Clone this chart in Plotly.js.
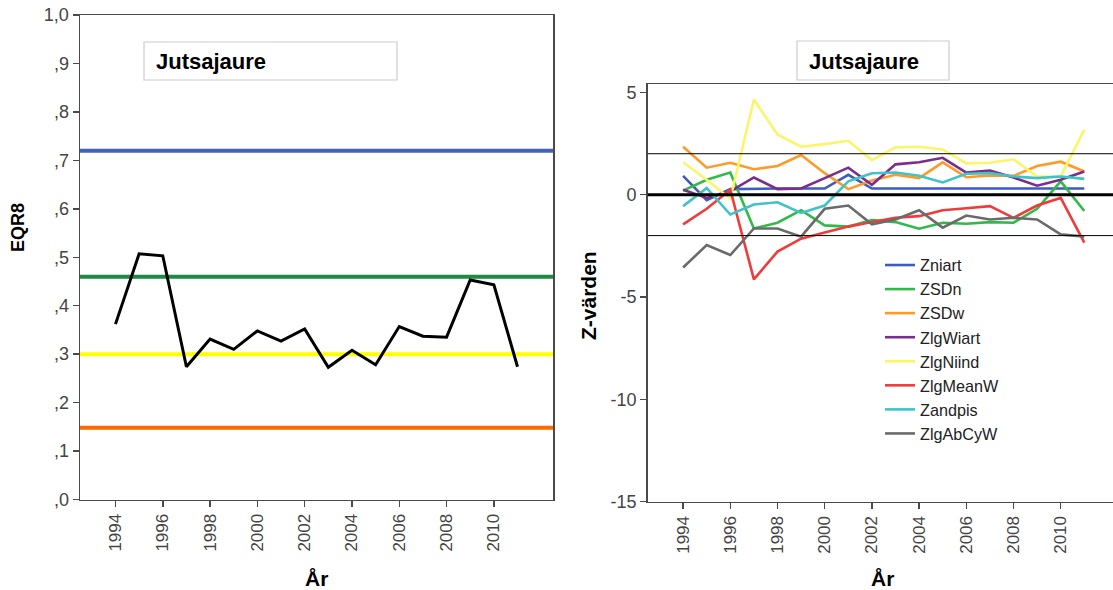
<!DOCTYPE html>
<html>
<head>
<meta charset="utf-8">
<script src="https://cdn.plot.ly/plotly-3.0.1.min.js"></script>
<style>html,body{margin:0;padding:0;background:#fff;}#chart{width:1113px;height:590px;}</style>
</head>
<body>
<div id="chart"></div>
<script>
// ---- data ----
const years = [1994,1995,1996,1997,1998,1999,2000,2001,2002,2003,2004,2005,2006,2007,2008,2009,2010,2011];
const eqr8 = [0.362,0.507,0.503,0.274,0.331,0.310,0.348,0.327,0.352,0.273,0.308,0.278,0.357,0.337,0.335,0.453,0.443,0.274];
const eqrLimits = [0.72, 0.46, 0.30, 0.148];
const eqrLimitColors = ['#4262bd', '#1d8a43', '#ffff00', '#ff6a00'];

const seriesNames = ['Zniart','ZSDn','ZSDw','ZlgWiart','ZlgNiind','ZlgMeanW','Zandpis','ZlgAbCyW'];
const Zniart   = [0.92,-0.27,0.27,0.30,0.30,0.30,0.30,0.97,0.30,0.30,0.30,0.30,0.30,0.30,0.30,0.30,0.30,0.30];
const ZSDn     = [0.20,0.73,1.08,-1.65,-1.37,-0.76,-1.50,-1.56,-1.24,-1.34,-1.66,-1.37,-1.42,-1.34,-1.37,-0.69,0.65,-0.80];
const ZSDw     = [2.34,1.32,1.56,1.24,1.40,1.94,1.05,0.27,0.69,0.97,0.81,1.58,0.85,0.94,0.92,1.40,1.61,1.13];
const ZlgWiart = [0.24,-0.16,0.16,0.84,0.27,0.30,0.81,1.32,0.48,1.48,1.58,1.80,1.08,1.18,0.84,0.44,0.73,1.13];
const ZlgNiind = [1.58,0.73,-0.20,4.65,2.94,2.34,2.47,2.63,1.69,2.31,2.34,2.21,1.53,1.56,1.73,0.89,0.89,3.18];
const ZlgMeanW = [-1.45,-0.69,0.24,-4.14,-2.78,-2.15,-1.85,-1.56,-1.34,-1.13,-1.05,-0.76,-0.66,-0.56,-1.13,-0.53,-0.16,-2.34];
const Zandpis  = [-0.56,0.32,-0.97,-0.48,-0.37,-0.89,-0.53,0.65,1.05,1.08,0.92,0.60,1.02,1.05,0.89,0.81,0.89,0.77];
const ZlgAbCyW = [-3.56,-2.46,-2.95,-1.65,-1.65,-2.05,-0.69,-0.53,-1.45,-1.21,-0.76,-1.61,-1.02,-1.21,-1.13,-1.21,-1.94,-2.05];
const seriesValues = [Zniart,ZSDn,ZSDw,ZlgWiart,ZlgNiind,ZlgMeanW,Zandpis,ZlgAbCyW];
const seriesColors = ['#3d5cbd','#31b94a','#ff9a28','#7a2d8c','#fbf56a','#ef3b3b','#40c3c6','#6b6b6b'];
const zRefLines = [2, 0, -2];
const zRefWidths = [1, 3, 1];

const xTickVals = [1994,1996,1998,2000,2002,2004,2006,2008,2010];
const eqrTickVals = [0,0.1,0.2,0.3,0.4,0.5,0.6,0.7,0.8,0.9,1.0];
const eqrTickText = [',0',',1',',2',',3',',4',',5',',6',',7',',8',',9','1,0'];
const zTickVals = [5,0,-5,-10,-15];
const zTickText = ['5','0','-5','-10','-15'];
const titleText = 'Jutsajaure';
const xTitle = 'År';
const yTitleLeft = 'EQR8';
const yTitleRight = 'Z-värden';

// ---- layout geometry (pixels -> paper) ----
const W = 1113, H = 590;
const px = v => v / W;
const py = v => 1 - v / H;

const FONT = '"Liberation Sans", Arial, sans-serif';
const axisColor = '#4a4a4a';

const traces = [];
traces.push({
  x: years, y: eqr8, type: 'scatter', mode: 'lines',
  line: {color: '#000000', width: 3}, xaxis: 'x', yaxis: 'y', showlegend: false, hoverinfo: 'skip'
});
seriesNames.forEach((n, i) => {
  traces.push({
    x: years, y: seriesValues[i], name: n, type: 'scatter', mode: 'lines',
    line: {color: seriesColors[i], width: 2.6}, xaxis: 'x2', yaxis: 'y2'
  });
});

const shapes = [];
eqrLimits.forEach((v, i) => {
  shapes.push({type: 'line', xref: 'x domain', yref: 'y', x0: 0, x1: 1, y0: v, y1: v,
    line: {color: eqrLimitColors[i], width: 4}, layer: 'below'});
});
zRefLines.forEach((v, i) => {
  shapes.push({type: 'line', xref: 'x2 domain', yref: 'y2', x0: 0, x1: 1, y0: v, y1: v,
    line: {color: '#000000', width: zRefWidths[i]}, layer: 'above'});
});
// title boxes
shapes.push({type: 'rect', xref: 'paper', yref: 'paper', x0: px(144), x1: px(397), y0: py(80), y1: py(42),
  line: {color: '#cccccc', width: 1.2}, fillcolor: '#ffffff', layer: 'above'});
shapes.push({type: 'rect', xref: 'paper', yref: 'paper', x0: px(797), x1: px(949), y0: py(80), y1: py(41),
  line: {color: '#cccccc', width: 1.2}, fillcolor: '#ffffff', layer: 'above'});

const annotations = [
  {xref: 'paper', yref: 'paper', x: px(154), y: py(61), xanchor: 'left', yanchor: 'middle', showarrow: false,
   text: '<b>' + titleText + '</b>', font: {family: FONT, size: 22, color: '#000'}},
  {xref: 'paper', yref: 'paper', x: px(807), y: py(61), xanchor: 'left', yanchor: 'middle', showarrow: false,
   text: '<b>' + titleText + '</b>', font: {family: FONT, size: 22, color: '#000'}},
  {xref: 'paper', yref: 'paper', x: px(316.5), y: py(578), xanchor: 'center', yanchor: 'middle', showarrow: false,
   text: '<b>' + xTitle + '</b>', font: {family: FONT, size: 21, color: '#000'}},
  {xref: 'paper', yref: 'paper', x: px(882), y: py(578), xanchor: 'center', yanchor: 'middle', showarrow: false,
   text: '<b>' + xTitle + '</b>', font: {family: FONT, size: 21, color: '#000'}},
  {xref: 'paper', yref: 'paper', x: px(18), y: py(228), xanchor: 'center', yanchor: 'middle', showarrow: false,
   textangle: -90, text: '<b>' + yTitleLeft + '</b>', font: {family: FONT, size: 18, color: '#000'}},
  {xref: 'paper', yref: 'paper', x: px(588), y: py(296), xanchor: 'center', yanchor: 'middle', showarrow: false,
   textangle: -90, text: '<b>' + yTitleRight + '</b>', font: {family: FONT, size: 21, color: '#000'}}
];

const xTickFont = {family: FONT, size: 17, color: '#444'};
const yTickFont = {family: FONT, size: 18, color: '#444'};

const layout = {
  width: W, height: H, autosize: false,
  margin: {l: 0, r: 0, t: 0, b: 0, pad: 0},
  paper_bgcolor: '#fff', plot_bgcolor: '#fff',
  font: {family: FONT},
  showlegend: true,
  legend: {x: px(880), y: py(248), xanchor: 'left', yanchor: 'top', bgcolor: 'rgba(0,0,0,0)',
    font: {family: FONT, size: 16.2, color: '#222'}, tracegroupgap: 0, itemwidth: 30},
  xaxis: {domain: [px(80), px(553)], range: [1992.5, 2012.5], tickvals: xTickVals, ticktext: xTickVals.map(String),
    tickangle: -90, ticks: 'outside', ticklen: 6, tickcolor: axisColor, tickwidth: 1.5,
    showline: true, linecolor: axisColor, linewidth: 1.5, mirror: true, showgrid: false, zeroline: false,
    tickfont: xTickFont, anchor: 'y'},
  yaxis: {domain: [py(499.5), py(15)], range: [0, 1], tickvals: eqrTickVals, ticktext: eqrTickText,
    ticks: 'outside', ticklen: 6, tickcolor: axisColor, tickwidth: 1.5,
    showline: true, linecolor: axisColor, linewidth: 1.5, mirror: true, showgrid: false, zeroline: false,
    tickfont: yTickFont, anchor: 'x'},
  xaxis2: {domain: [px(647.7), 1], range: [1992.5, 1992.5 + (W - 647.7) / 23.6], tickvals: xTickVals, ticktext: xTickVals.map(String),
    tickangle: -90, ticks: 'outside', ticklen: 6, tickcolor: axisColor, tickwidth: 1.5,
    showline: true, linecolor: axisColor, linewidth: 1.5, mirror: true, showgrid: false, zeroline: false,
    tickfont: xTickFont, anchor: 'y2'},
  yaxis2: {domain: [py(501.7), py(84.3)], range: [-15, 5 + 8.1 / 20.67], tickvals: zTickVals, ticktext: zTickText,
    ticks: 'outside', ticklen: 6, tickcolor: axisColor, tickwidth: 1.5,
    showline: true, linecolor: axisColor, linewidth: 1.5, mirror: false, showgrid: false, zeroline: false,
    tickfont: yTickFont, anchor: 'x2'},
  shapes: shapes,
  annotations: annotations
};

Plotly.newPlot('chart', traces, layout, {displayModeBar: false, staticPlot: true});
</script>
</body>
</html>
